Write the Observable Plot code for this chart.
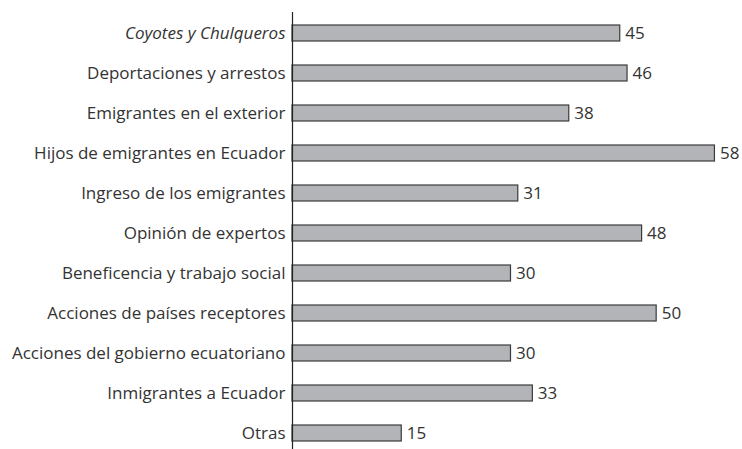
<!DOCTYPE html>
<html>
<head>
<meta charset="utf-8">
<script src="https://cdn.jsdelivr.net/npm/d3@7"></script>
<script src="https://cdn.jsdelivr.net/npm/@observablehq/plot@0.6"></script>
<style>
  html, body { margin: 0; padding: 0; background: #fff; }
  #chart { width: 742px; height: 449px; }
</style>
</head>
<body>
<div id="chart"></div>
<script>
const categories = [
  "Coyotes y Chulqueros",
  "Deportaciones y arrestos",
  "Emigrantes en el exterior",
  "Hijos de emigrantes en Ecuador",
  "Ingreso de los emigrantes",
  "Opinión de expertos",
  "Beneficencia y trabajo social",
  "Acciones de países receptores",
  "Acciones del gobierno ecuatoriano",
  "Inmigrantes a Ecuador",
  "Otras"
];
const values = [45, 46, 38, 58, 31, 48, 30, 50, 30, 33, 15];
const italicCategories = ["Coyotes y Chulqueros"];

const data = categories.map((c, i) => ({category: c, value: values[i]}));

const chart = Plot.plot({
  width: 742,
  height: 449,
  marginLeft: 292,
  marginRight: 13,
  marginTop: 17,
  marginBottom: 0,
  style: {fontFamily: "'Open Sans', sans-serif", fontSize: "17px", color: "#333", background: "#fff"},
  x: {domain: [0, 60], axis: null},
  y: {domain: categories, axis: null, paddingInner: 0.6, paddingOuter: 0.2, round: false},
  marks: [
    Plot.barX(data, {x: "value", y: "category", fill: "#b3b4b8", stroke: "#3a3a3a", strokeWidth: 1.2}),
    Plot.ruleX([0], {stroke: "#222", strokeWidth: 1.2, insetTop: -5}),
    Plot.text(data.filter(d => !italicCategories.includes(d.category)), {x: 0, y: "category", text: "category", textAnchor: "end", dx: -7, fill: "#333", fontSize: 17}),
    Plot.text(data.filter(d => italicCategories.includes(d.category)), {x: 0, y: "category", text: "category", textAnchor: "end", dx: -7, fill: "#333", fontSize: 17, fontStyle: "italic"}),
    Plot.text(data, {x: "value", y: "category", text: d => String(d.value), textAnchor: "start", dx: 5, fill: "#333", fontSize: 17})
  ]
});
document.getElementById("chart").appendChild(chart);
</script>
</body>
</html>
